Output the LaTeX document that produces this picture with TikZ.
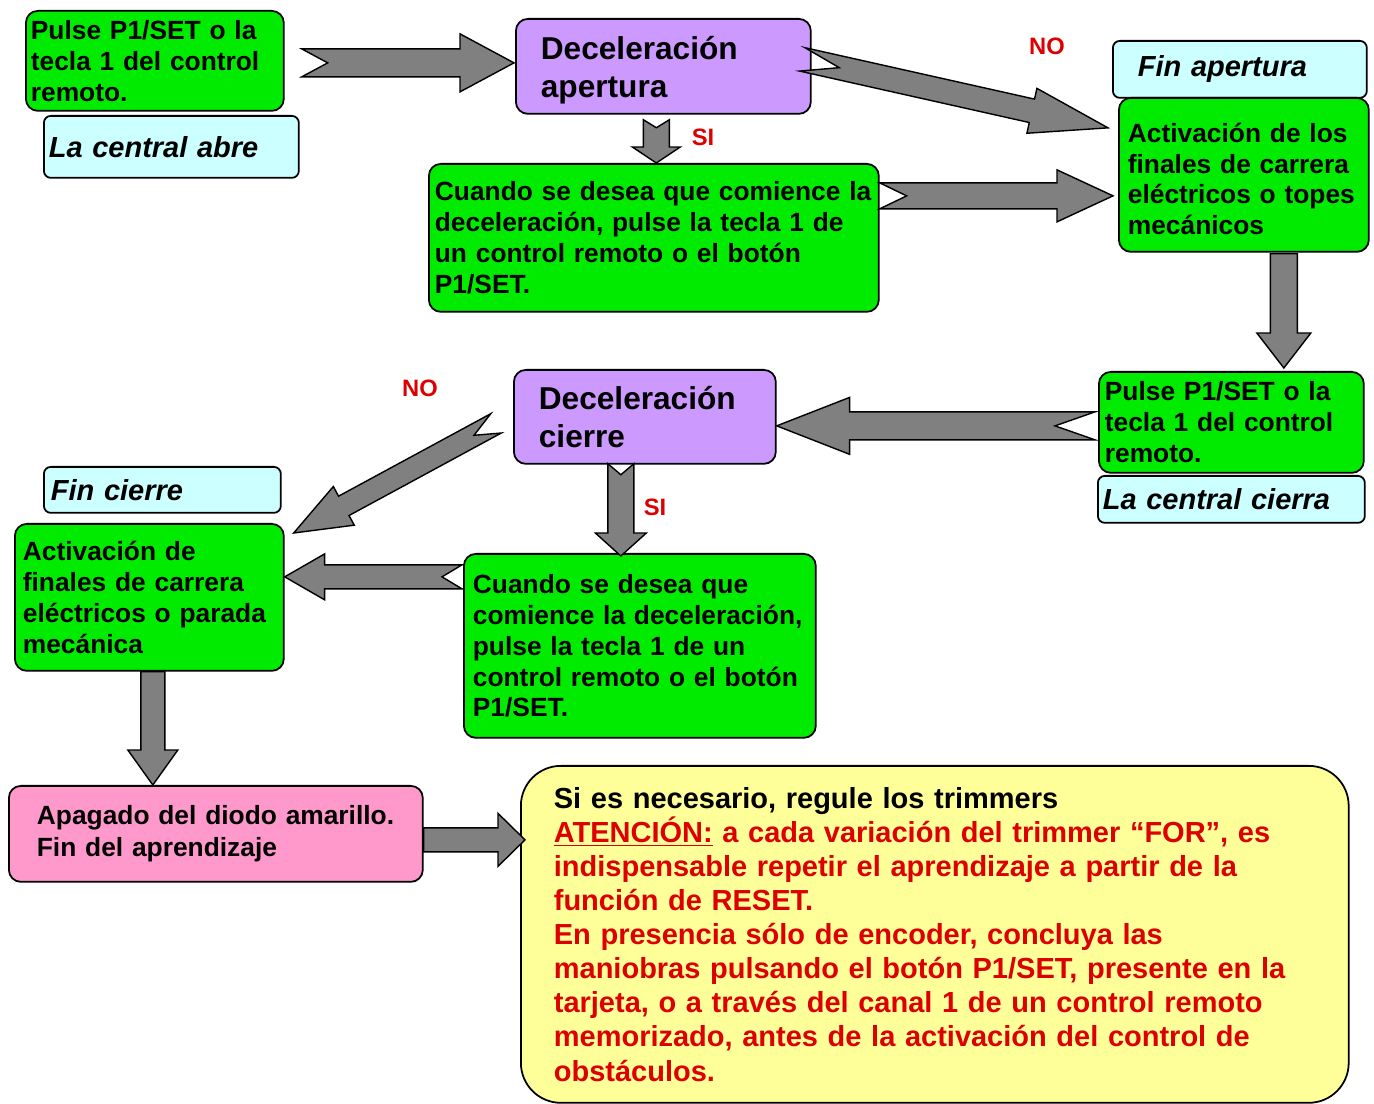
\documentclass[tikz,border=0pt]{standalone}
\usepackage{fontspec}
\setmainfont{Liberation Sans}
\usetikzlibrary{calc}

\definecolor{boxgreen}{RGB}{0,235,0}
\definecolor{boxpurple}{RGB}{204,153,255}
\definecolor{boxcyan}{RGB}{204,255,255}
\definecolor{boxpink}{RGB}{255,153,204}
\definecolor{boxyellow}{RGB}{255,255,153}
\definecolor{arrowgray}{RGB}{128,128,128}
\definecolor{notered}{RGB}{220,0,0}

\tikzstyle{box}=[rectangle, rounded corners=0.24cm, draw=black, line width=1pt, anchor=north west, align=left, inner ysep=0pt, font=\bfseries\fontsize{15}{17.6}\selectfont]
\tikzstyle{greenbox}=[box, fill=boxgreen]
\tikzstyle{titlebox}=[box, fill=boxpurple, font=\bfseries\fontsize{18}{21.6}\selectfont]
\tikzstyle{tagbox}=[box, fill=boxcyan, rounded corners=0.14cm, font=\bfseries\itshape\fontsize{16.5}{19}\selectfont]
\tikzstyle{annot}=[text=notered, font=\bfseries\fontsize{13.5}{15}\selectfont]
\tikzstyle{arrowbody}=[draw=black, fill=arrowgray, line width=0.8pt, line join=miter]

% tail, tip, shaft half width, head half width, head length, notch depth
\newcommand{\blockarrow}[6]
{
  \coordinate (ba-t) at #1;
  \coordinate (ba-p) at #2;
  \coordinate (ba-h) at ($(ba-p)!#5!(ba-t)$);
  \draw[arrowbody] ($(ba-t)!#3!90:(ba-p)$) -- ($(ba-h)!#3!90:(ba-p)$) -- ($(ba-h)!#4!90:(ba-p)$) -- (ba-p)
    -- ($(ba-h)!#4!-90:(ba-p)$) -- ($(ba-h)!#3!-90:(ba-p)$) -- ($(ba-t)!#3!-90:(ba-p)$) -- ($(ba-t)!#6!(ba-p)$) -- cycle;
}

\begin{document}
\begin{tikzpicture}[x=0.02cm, y=-0.02cm]
	\useasboundingbox (0,0) rectangle (1374,1104);

	% apertura
	\node[greenbox, minimum width=5.16cm, minimum height=2cm, inner xsep=0.1cm, text width=4.96cm](pulse1) at (25,10){Pulse P1/SET o la\\tecla 1 del control\\remoto.};
	\node[tagbox, minimum width=5.1cm, minimum height=1.24cm, inner xsep=0.1cm, text width=4.9cm](abre) at (43,115){La central abre};
	\node[titlebox, minimum width=5.9cm, minimum height=1.9cm, inner xsep=0.5cm, text width=4.9cm](decap) at (515,18){\rule{0pt}{0.6cm}Deceleración\\apertura};
	\node[greenbox, minimum width=9cm, minimum height=2.96cm, inner xsep=0.12cm, text width=8.76cm](cuando1) at (428,163){Cuando se desea que comience la\\deceleración, pulse la tecla 1 de\\un control remoto o el botón\\P1/SET.};
	\node[tagbox, minimum width=5.08cm, minimum height=1.14cm, inner xsep=0.5cm, text width=4.08cm](finap) at (1112,40){Fin apertura};
	\node[greenbox, minimum width=5cm, minimum height=3.08cm, inner xsep=0.18cm, text width=4.64cm](activ1) at (1118,97){\rule{0pt}{0.55cm}Activación de los\\finales de carrera\\eléctricos o topes\\mecánicos};

	% cierre
	\node[greenbox, minimum width=5.3cm, minimum height=2.02cm, inner xsep=0.12cm, text width=5.06cm](pulse2) at (1098,371){Pulse P1/SET o la\\tecla 1 del control\\remoto.};
	\node[tagbox, minimum width=5.34cm, minimum height=0.94cm, inner xsep=0.1cm, text width=5.14cm](cierra) at (1097,475){La central cierra};
	\node[titlebox, minimum width=5.24cm, minimum height=1.88cm, inner xsep=0.5cm, text width=4.24cm](deccie) at (513,369){Deceleración\\cierre};
	\node[tagbox, minimum width=4.74cm, minimum height=0.92cm, inner xsep=0.14cm, text width=4.46cm](fincie) at (43,466){Fin cierre};
	\node[greenbox, minimum width=5.38cm, minimum height=2.94cm, inner xsep=0.16cm, text width=5.06cm](activ2) at (14,523){Activación de\\finales de carrera\\eléctricos o parada\\mecánica};
	\node[greenbox, minimum width=7.04cm, minimum height=3.68cm, inner xsep=0.18cm, text width=6.68cm](cuando2) at (463,553){Cuando se desea que\\comience la deceleración,\\pulse la tecla 1 de un\\control remoto o el botón\\P1/SET.};

	% fin
	\node[box, fill=boxpink, minimum width=8.28cm, minimum height=1.92cm, inner xsep=0.56cm, text width=7.16cm, font=\bfseries\fontsize{15}{18.2}\selectfont](apagado) at (8,785){Apagado del diodo amarillo.\\Fin del aprendizaje};
	\node[box, fill=boxyellow, rounded corners=0.8cm, minimum width=16.56cm, minimum height=6.74cm, inner xsep=0.66cm, text width=15.24cm, font=\bfseries\fontsize{16.5}{19.4}\selectfont](nota) at (520,765){Si es necesario, regule los trimmers\\
	\color{notered}\underline{ATENCIÓN:} a cada variación del trimmer “FOR”, es\\indispensable repetir el aprendizaje a partir de la\\función de RESET.\\En presencia sólo de encoder, concluya las\\maniobras pulsando el botón P1/SET, presente en la\\tarjeta, o a través del canal 1 de un control remoto\\memorizado, antes de la activación del control de\\obstáculos.};

	\blockarrow{($(pulse1.east)+(17,2)$)}{($(decap.west)+(-1,-3.5)$)}{0.28cm}{0.58cm}{1.08cm}{0.52cm}
	\blockarrow{($(decap.south)+(-7,5)$)}{($(cuando1.north)+(2.5,0)$)}{0.26cm}{0.48cm}{0.32cm}{0.16cm}
	\blockarrow{($(decap.east)+(-9.5,-7)$)}{($(activ1.west)+(-10,-47)$)}{0.24cm}{0.46cm}{1.56cm}{0.76cm}
	\blockarrow{($(cuando1.east)+(0,-42)$)}{($(activ1.west)+(-5,21)$)}{0.26cm}{0.52cm}{1.12cm}{0.54cm}
	\blockarrow{($(activ1.south)+(40,1)$)}{($(pulse2.north)+(52.5,-3)$)}{0.27cm}{0.54cm}{0.7cm}{0cm}
	\blockarrow{($(pulse2.west)+(-3,3.5)$)}{($(deccie.east)+(0,9)$)}{0.28cm}{0.57cm}{1.46cm}{0.8cm}
	\blockarrow{($(deccie.west)+(-17,6.5)$)}{($(activ2.north east)+(9,10)$)}{0.22cm}{0.44cm}{1.14cm}{0.5cm}
	\blockarrow{($(deccie.south)+(-24,-1)$)}{($(cuando2.north)+(-19,3)$)}{0.26cm}{0.51cm}{0.46cm}{0.22cm}
	\blockarrow{($(cuando2.west)+(-1,-69)$)}{($(activ2.east)+(0,-20.5)$)}{0.24cm}{0.46cm}{0.8cm}{0.4cm}
	\blockarrow{($(activ2.south)+(3.5,0)$)}{($(apagado.north)+(-63,0)$)}{0.24cm}{0.5cm}{0.7cm}{0cm}
	\blockarrow{($(apagado.east)+(0,6)$)}{($(nota.west)+(5,-94.5)$)}{0.24cm}{0.53cm}{0.54cm}{0cm}

	\node[annot](si1) at (703,137){SI};
	\node[annot](no1) at (1047,46){NO};
	\node[annot](no2) at (420,388){NO};
	\node[annot](si2) at (655,507){SI};

\end{tikzpicture}
\end{document}
